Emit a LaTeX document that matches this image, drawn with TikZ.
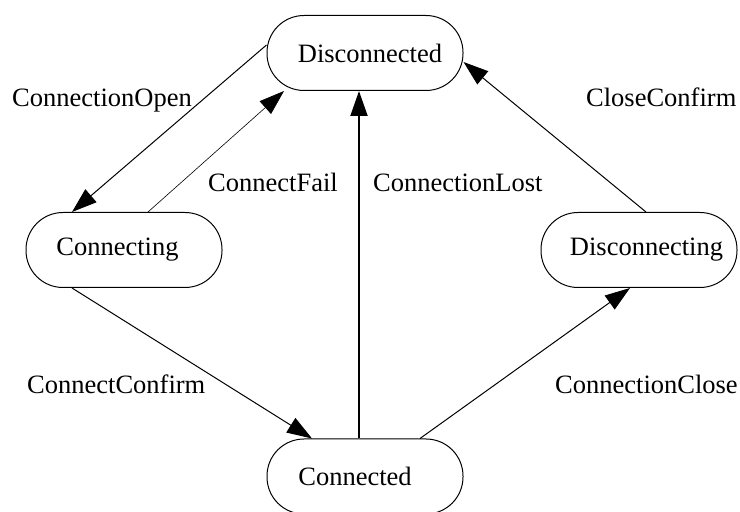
\documentclass[tikz,border=0pt]{standalone}
\usepackage{fontspec}
\setmainfont{Liberation Serif}
\usetikzlibrary{arrows.meta}
\begin{document}
\begin{tikzpicture}[x=1pt,y=1pt,
  state/.style={draw,line width=1pt,rectangle,rounded corners=37pt,
    minimum width=196pt,minimum height=75pt,inner sep=0pt,
    font=\fontsize{26.5}{30}\selectfont},
  trans/.style={line width=1pt,-{Triangle[length=25pt,width=17pt]}},
  lbl/.style={anchor=base west,inner sep=0pt,font=\fontsize{26.5}{30}\selectfont}]
\useasboundingbox (0,0) rectangle (740,512);

% states
\node[state] (dis)   at (365,459) {\hspace*{10pt}Disconnected};
\node[state] (cing)  at (124,262) {Connecting\hspace*{13pt}};
\node[state] (ding)  at (639,262) {\hspace*{15pt}Disconnecting};
\node[state] (cted)  at (365,35.5) {Connected\hspace*{20pt}};

% transitions
\draw[trans] ([yshift=8pt]dis.west) -- ([xshift=-52pt]cing.north);
\draw[trans,line width=0.6pt] ([xshift=24pt]cing.north) -- ([xshift=-81pt]dis.south);
\draw[trans,line width=2pt] ([xshift=-6pt]cted.north) -- ([xshift=-6pt]dis.south);
\draw[trans] ([xshift=-52pt]cing.south) -- ([xshift=-53pt]cted.north);
\draw[trans] ([xshift=55pt]cted.north) -- ([xshift=-9pt]ding.south);
\draw[trans] ([xshift=7pt]ding.north) -- ([yshift=-9pt]dis.east);

% transition labels
\node[lbl] (lopen)  at (12,405)  {ConnectionOpen};
\node[lbl] (lfail)  at (208,320) {ConnectFail};
\node[lbl] (llost)  at (373,320) {ConnectionLost};
\node[lbl] (lcconf) at (586,405) {CloseConfirm};
\node[lbl] (lconf)  at (27,118)  {ConnectConfirm};
\node[lbl] (lclose) at (555,118) {ConnectionClose};
\end{tikzpicture}
\end{document}
